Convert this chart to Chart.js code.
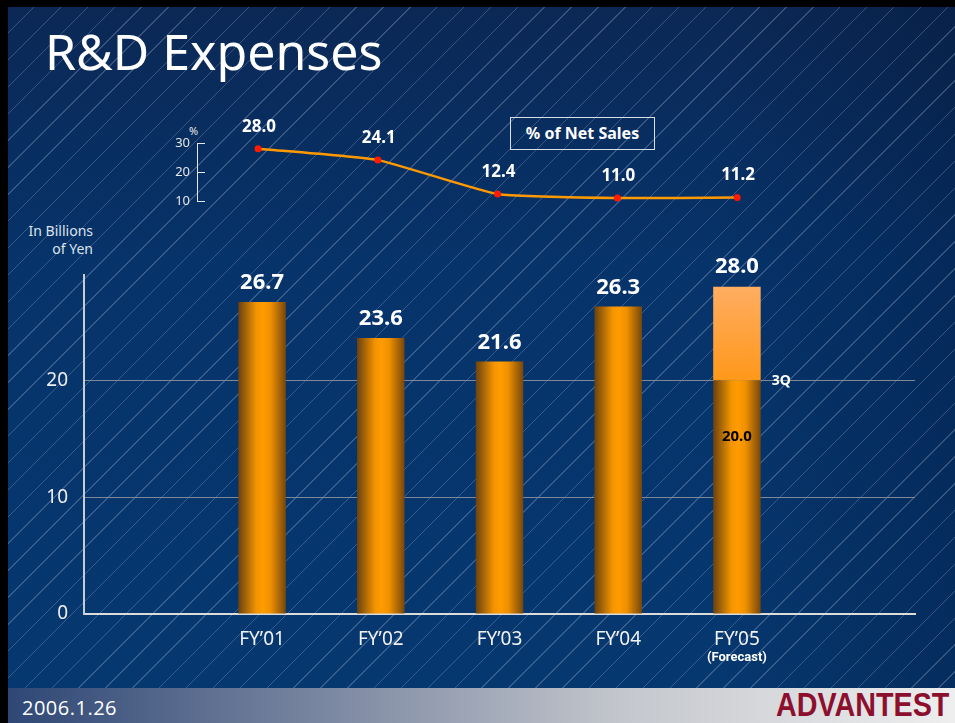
<!DOCTYPE html>
<html>
<head>
<meta charset="utf-8">
<script src="https://cdn.jsdelivr.net/npm/chart.js@4.4.1/dist/chart.umd.min.js"></script>
<style>
  html, body { margin: 0; padding: 0; width: 955px; height: 723px; overflow: hidden; background: #000; font-family: "Noto Sans", sans-serif; }
  #slide {
    position: absolute; left: 8px; top: 7px; width: 947px; height: 716px;
    background:
      repeating-linear-gradient(135deg, rgba(255,255,255,0) 0 18px, rgba(190,205,230,0.26) 18px 19px),
      linear-gradient(to right, rgba(0,0,0,0) 75%, rgba(0,12,40,0.25) 100%),
      linear-gradient(to bottom, #0b2855 0%, #06336a 35%, #063870 100%);
  }
  #band {
    position: absolute; left: 8px; top: 688px; width: 947px; height: 35px;
    background: linear-gradient(to right, #2e4775 0%, #7e8aa3 35%, #c4c7cd 65%, #eeeeee 100%);
  }
  .txt { position: absolute; color: #fff; white-space: nowrap; }
  #title { left: 45px; top: 26px; font-size: 50px; line-height: 50px; }
  #unit { left: 0; width: 93px; top: 222px; text-align: right; font-size: 14px; line-height: 18px; color: #dde3ec; }
  #pctSign { left: 189px; top: 123px; font-size: 11px; color: #e6e6e6; }
  #legendBox { left: 510px; top: 117px; width: 143px; height: 31px; border: 1px solid #d8e0ec; font-weight: bold; font-size: 16px; line-height: 31px; text-align: center; }
  #date { left: 22px; top: 696px; font-family: "Open Sans", sans-serif; font-size: 20px; line-height: 24px; letter-spacing: 0.5px; }
  #logo { left: 776px; top: 687px; font-family: "Liberation Sans", sans-serif; font-weight: bold; font-size: 33px; line-height: 36px; color: #8d0f2e; transform: scaleX(0.87); transform-origin: left center; }
  canvas { position: absolute; left: 0; }
  #pct { top: 0; }
  #main { top: 220px; }
</style>
</head>
<body>
<div id="slide"></div>
<div id="band"></div>
<div class="txt" id="title">R&amp;D Expenses</div>
<div class="txt" id="unit">In Billions<br>of Yen</div>
<div class="txt" id="pctSign">%</div>
<div class="txt" id="legendBox">% of Net Sales</div>
<div class="txt" id="date">2006.1.26</div>
<div class="txt" id="logo">ADVANTEST</div>
<canvas id="main" width="955" height="460"></canvas>
<canvas id="pct" width="955" height="230"></canvas>
<script>
const years = ["FY\u201901", "FY\u201902", "FY\u201903", "FY\u201904", "FY\u201905"];
const rdExpense = [26.7, 23.6, 21.6, 26.3, 20.0];   // FY'05 = actual through 3Q
const forecastRest = [null, null, null, null, 8.0]; // remainder of FY'05 forecast
const pctNetSales = [28.0, 24.1, 12.4, 11.0, 11.2];
const yTicks = [0, 10, 20];
const pctTicks = [10, 20, 30];

// one empty slot either side of the five years
const slots = ["", ...years, ""];
const pad = arr => [null, ...arr, null];
const baseData = pad(rdExpense);
const extraData = pad(forecastRest);

function barWidth(chart) {
  return chart.scales.x.width / slots.length * 0.4;
}

function barGradient(c) {
  const chart = c.chart;
  if (!chart.chartArea) return '#ff9900';
  const cx = chart.scales.x.getPixelForValue(c.dataIndex);
  const half = barWidth(chart) / 2;
  const g = chart.ctx.createLinearGradient(cx - half, 0, cx + half, 0);
  g.addColorStop(0, '#6a420f');
  g.addColorStop(0.38, '#f39400');
  g.addColorStop(0.52, '#ff9c00');
  g.addColorStop(0.68, '#ef9000');
  g.addColorStop(1, '#76470b');
  return g;
}

function forecastGradient(c) {
  const chart = c.chart;
  if (!chart.chartArea) return '#ffa040';
  const i = c.dataIndex;
  if (extraData[i] == null) return '#ffa040';
  const y = chart.scales.y;
  const g = chart.ctx.createLinearGradient(0, y.getPixelForValue(baseData[i] + extraData[i]), 0, y.getPixelForValue(baseData[i]));
  g.addColorStop(0, '#ffad62');
  g.addColorStop(1, '#ff981a');
  return g;
}

const barLabels = {
  id: 'barLabels',
  afterDatasetsDraw(chart) {
    const ctx = chart.ctx;
    const base = chart.getDatasetMeta(0).data;
    const extra = chart.getDatasetMeta(1).data;
    ctx.save();
    ctx.textAlign = 'center';
    ctx.textBaseline = 'middle';
    baseData.forEach((v, i) => {
      if (v == null) return;
      if (extraData[i] == null) {
        ctx.font = 'bold 22px "Noto Sans"';
        ctx.fillStyle = '#fff';
        ctx.fillText(v.toFixed(1), base[i].x, base[i].y - 19);
      } else {
        ctx.font = 'bold 22px "Noto Sans"';
        ctx.fillStyle = '#fff';
        ctx.fillText((v + extraData[i]).toFixed(1), extra[i].x, extra[i].y - 20);
        ctx.font = 'bold 15px "Noto Sans"';
        ctx.fillStyle = '#000';
        ctx.fillText(v.toFixed(1), base[i].x, base[i].y + 57);
        ctx.font = 'bold 14px "Noto Sans"';
        ctx.fillStyle = '#fff';
        ctx.textAlign = 'left';
        ctx.fillText('3Q', base[i].x + barWidth(chart) / 2 + 11, base[i].y + 1);
        ctx.textAlign = 'center';
        // note under the forecast year
        ctx.font = 'bold 13px "Liberation Sans Narrow", Roboto, sans-serif';
        ctx.fillText('(Forecast)', base[i].x, chart.chartArea.bottom + 44);
      }
    });
    ctx.restore();
  }
};

new Chart(document.getElementById('main'), {
  type: 'bar',
  data: {
    labels: slots,
    datasets: [
      { data: baseData, backgroundColor: barGradient, barPercentage: 0.4, categoryPercentage: 1 },
      { data: extraData, backgroundColor: forecastGradient, barPercentage: 0.4, categoryPercentage: 1 }
    ]
  },
  options: {
    responsive: false,
    animation: false,
    layout: { padding: { top: 55, right: 40, left: 0, bottom: 0 } },
    plugins: { legend: { display: false }, tooltip: { enabled: false } },
    scales: {
      x: {
        stacked: true,
        afterFit: s => { s.height = 66; },
        grid: { drawOnChartArea: false, drawTicks: false },
        border: { color: '#dcdcdc', width: 2 },
        ticks: { color: '#f2f2f2', font: { size: 19, family: 'Noto Sans' }, padding: 14 }
      },
      y: {
        stacked: true,
        min: 0,
        max: 29,
        afterFit: s => { s.width = 84; },
        afterBuildTicks: s => { s.ticks = yTicks.map(v => ({ value: v })); },
        border: { color: '#c6ccd6', width: 2 },
        grid: {
          drawTicks: false,
          lineWidth: 1,
          color: c => c.tick && c.tick.value === 0 ? 'rgba(0,0,0,0)' : '#7d8898'
        },
        ticks: { color: '#eeeeee', font: { size: 19, family: 'Noto Sans' }, padding: 16 }
      }
    }
  },
  plugins: [barLabels]
});

const pctLabels = {
  id: 'pctLabels',
  afterDatasetsDraw(chart) {
    const ctx = chart.ctx;
    const pts = chart.getDatasetMeta(0).data;
    ctx.save();
    ctx.font = 'bold 17px "Noto Sans"';
    ctx.fillStyle = '#fff';
    ctx.textAlign = 'center';
    ctx.textBaseline = 'middle';
    pts.forEach((p, i) => ctx.fillText(pctNetSales[i].toFixed(1), p.x + 1, p.y - 22));
    ctx.restore();
  }
};

new Chart(document.getElementById('pct'), {
  type: 'line',
  data: {
    datasets: [{
      data: pctNetSales.map((v, i) => ({ x: i, y: v })),
      borderColor: '#ff9900',
      borderWidth: 2.5,
      tension: 0.15,
      pointBackgroundColor: '#ff1a00',
      pointBorderWidth: 0,
      pointRadius: 3.5,
      clip: false
    }]
  },
  options: {
    responsive: false,
    animation: false,
    layout: { padding: { top: 143, right: 158, left: 0, bottom: 29 } },
    plugins: { legend: { display: false }, tooltip: { enabled: false } },
    scales: {
      x: { type: 'linear', display: false, min: -0.51, max: 4.5 },
      y: {
        min: 10,
        max: 30,
        afterFit: s => { s.width = 197; },
        afterBuildTicks: s => { s.ticks = pctTicks.map(v => ({ value: v })); },
        border: { color: '#e6e6e6', width: 1 },
        grid: { drawOnChartArea: false, tickLength: -8, color: '#e6e6e6', lineWidth: 1 },
        ticks: { color: '#e6e6e6', font: { size: 13, family: 'Noto Sans' }, padding: 15 }
      }
    }
  },
  plugins: [pctLabels]
});
</script>
</body>
</html>
